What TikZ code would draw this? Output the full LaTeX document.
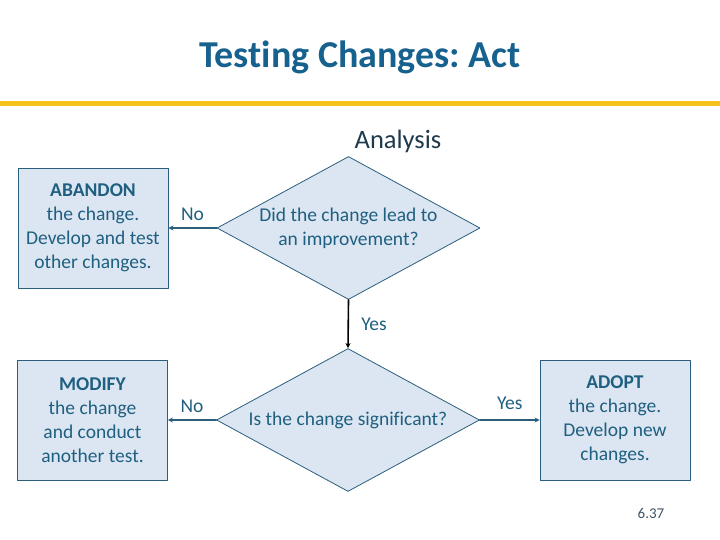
\documentclass[tikz,border=0pt]{standalone}
\usepackage{fontspec}
\setmainfont{Carlito}[Ligatures=CommonOff]
\frenchspacing
\usetikzlibrary{shapes.geometric,arrows.meta}
\definecolor{titleblue}{HTML}{17618F}
\definecolor{textblue}{HTML}{1F5F80}
\definecolor{darkblue}{HTML}{1F3A4D}
\definecolor{linecol}{HTML}{2A5E7C}
\definecolor{boxfill}{HTML}{DCE6F2}
\definecolor{rulegold}{HTML}{F6C21C}
\definecolor{pagegray}{HTML}{3F5566}
\begin{document}
\begin{tikzpicture}[x=1pt, y=-1pt, line cap=round, line join=round, >={Stealth[length=5pt,width=5pt]}]
	\tikzset{box style/.style={draw=linecol, fill=boxfill, line width=0.8pt, minimum width=150pt, minimum height=120pt, align=center, text=textblue, font=\fontsize{19.5}{24}\selectfont, inner sep=0pt},
		question style/.style={diamond, draw=linecol, fill=boxfill, line width=0.8pt, minimum width=263pt, minimum height=143pt, inner sep=0pt},
		question text/.style={align=center, text=textblue, font=\fontsize{19.5}{24}\selectfont},
		flow style/.style={->, draw=linecol, line width=2.6pt},
		label style/.style={text=textblue, font=\fontsize{19.5}{22}\selectfont}}
	\useasboundingbox (0,0) rectangle (720,540);
	\node[text=titleblue, font=\fontsize{38}{44}\selectfont\bfseries] (title) at (360,57) {Testing Changes: Act};
	\fill[rulegold] (0,101.5) rectangle (720,106);
	\node[text=darkblue, font=\fontsize{26.5}{30}\selectfont] (analysis) at (398,141) {Analysis};
	\node[question style, label={[question text]center:Did the change lead to\\an improvement?}] (improve) at (348.5,228) {};
	\node[question style, label={[question text]center:Is the change significant?}] (signif) at (348,420) {};
	\node[box style] (abandon) at (93,228) {\textbf{ABANDON}\\the change.\\Develop and test\\other changes.};
	\node[box style] (modify) at (92.5,420) {\textbf{MODIFY}\\the change\\and conduct\\another test.};
	\node[box style] (adopt) at (615,420) {\textbf{ADOPT}\\the change.\\Develop new\\changes.};
	\draw[flow style] (improve.west) -- node[label style, midway, above=3pt]{No} (abandon.east);
	\draw[->, line width=1.6pt, black] (improve.south) -- node[label style, midway, right=9pt]{Yes} (signif.north);
	\draw[flow style] (signif.west) -- node[label style, midway, above=3pt]{No} (modify.east);
	\draw[flow style] (signif.east) -- node[label style, midway, above=6pt]{Yes} (adopt.west);
	\node[text=pagegray, font=\fontsize{15}{17}\selectfont] (page) at (651,513) {6.37};
\end{tikzpicture}
\end{document}
